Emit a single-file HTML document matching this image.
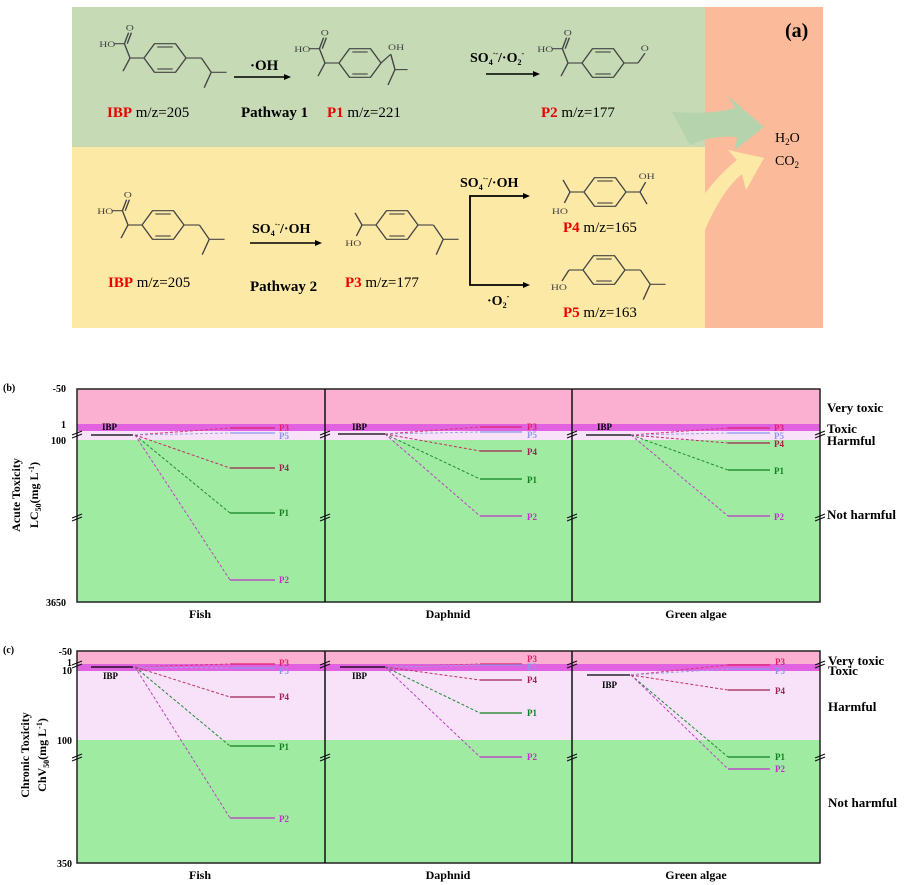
<!DOCTYPE html>
<html><head><meta charset="utf-8"><style>
html,body{margin:0;padding:0;background:#fff;}
svg{display:block;font-family:"Liberation Serif",serif;}
.b{font-weight:bold;}
</style></head><body>
<svg width="921" height="885" viewBox="0 0 921 885" xmlns="http://www.w3.org/2000/svg">
<defs>
<g id="ring" fill="none" stroke="#444" stroke-width="1">
<polygon points="-15,0 -7.5,-13 7.5,-13 15,0 7.5,13 -7.5,13"/>
<line x1="-5.5" y1="-10" x2="5.5" y2="-10"/><line x1="-5.5" y1="10" x2="5.5" y2="10"/>
</g>
<g id="acid">
<g fill="none" stroke="#444" stroke-width="1">
<line x1="-15" y1="0" x2="-25" y2="0"/><line x1="-25" y1="0" x2="-30" y2="12"/>
<line x1="-25" y1="0" x2="-29" y2="-13"/><line x1="-29" y1="-13" x2="-36" y2="-13"/>
<line x1="-29" y1="-13" x2="-26" y2="-23"/><line x1="-27" y1="-13" x2="-24" y2="-23"/></g>
<text x="-47" y="-10" font-size="8" fill="#444">HO</text><text x="-28" y="-25" font-size="8" fill="#444">O</text>
</g>
<g id="ibu" fill="none" stroke="#444" stroke-width="1">
<line x1="15" y1="0" x2="26" y2="0"/><line x1="26" y1="0" x2="33" y2="13"/>
<line x1="33" y1="13" x2="44" y2="13"/><line x1="33" y1="13" x2="28" y2="27"/>
</g>
</defs>
<rect x="72" y="7" width="633" height="140" fill="#c5dab5"/>
<rect x="72" y="147" width="633" height="181" fill="#fde9a6"/>
<rect x="705" y="7" width="118" height="321" fill="#fbbb9b"/>
<path d="M672,112 Q710,115 735,108 L728,96 L764,127 L735,150 L737,137 Q712,135 690,145 Z" fill="#b5d3ad"/>
<path d="M690,215 Q712,180 737,160 L728,150 L764,158 L746,190 L742,174 Q722,190 705,230 Z" fill="#fde9a6"/>
<text x="785" y="37" font-size="20" class="b">(a)</text>
<text x="775" y="142" font-size="14">H<tspan font-size="9" dy="3">2</tspan><tspan dy="-3">O</tspan></text>
<text x="775" y="165" font-size="14">CO<tspan font-size="9" dy="3">2</tspan></text>
<g transform="translate(165,58) scale(1.4,1.1)"><use href="#ring"/><use href="#acid"/><use href="#ibu"/></g>
<g transform="translate(360,63) scale(1.4,1.1)"><use href="#ring"/><use href="#acid"/>
<g fill="none" stroke="#444" stroke-width="1"><line x1="15" y1="0" x2="22" y2="-8"/><line x1="22" y1="-8" x2="25" y2="6"/><line x1="25" y1="6" x2="20" y2="20"/><line x1="25" y1="6" x2="34" y2="6"/></g>
<text x="20" y="-12" font-size="8" fill="#444">OH</text></g>
<g transform="translate(603,63) scale(1.4,1.1)"><use href="#ring"/><use href="#acid"/>
<g fill="none" stroke="#444" stroke-width="1"><line x1="15" y1="0" x2="25" y2="0"/><line x1="25" y1="0" x2="30" y2="-9"/></g>
<text x="27" y="-11" font-size="8" fill="#444">O</text></g>
<text x="250" y="70" font-size="15" class="b">·OH</text>
<line x1="234" y1="77" x2="285" y2="77" stroke="#000" stroke-width="1.5"/><polygon points="284,74 291,77 284,80"/>
<text x="470" y="62" font-size="14" class="b">SO<tspan font-size="8" dy="3">4</tspan><tspan font-size="8" dy="-9">·-</tspan><tspan dy="6">/·O</tspan><tspan font-size="8" dy="3">2</tspan><tspan font-size="8" dy="-9">-</tspan></text>
<line x1="486" y1="74" x2="534" y2="74" stroke="#000" stroke-width="1.5"/><polygon points="533,71 540,74 533,77"/>
<text x="107" y="117" font-size="15"><tspan fill="#e00" font-weight="bold">IBP</tspan><tspan>  m/z=205</tspan></text>
<text x="241" y="117" font-size="15" class="b">Pathway 1</text>
<text x="327" y="117" font-size="15"><tspan fill="#e00" font-weight="bold">P1</tspan><tspan>  m/z=221</tspan></text>
<text x="541" y="117" font-size="15"><tspan fill="#e00" font-weight="bold">P2</tspan><tspan>  m/z=177</tspan></text>
<g transform="translate(163,225) scale(1.4,1.1)"><use href="#ring"/><use href="#acid"/><use href="#ibu"/></g>
<text x="252" y="233" font-size="14" class="b">SO<tspan font-size="8" dy="3">4</tspan><tspan font-size="8" dy="-9">·-</tspan><tspan dy="6">/·OH</tspan></text>
<line x1="250" y1="243" x2="316" y2="243" stroke="#000" stroke-width="1.5"/><polygon points="315,240 322,243 315,246"/>
<g transform="translate(397,225) scale(1.4,1.1)"><use href="#ring"/>
<g fill="none" stroke="#444" stroke-width="1"><line x1="-15" y1="0" x2="-25" y2="0"/><line x1="-25" y1="0" x2="-30" y2="-11"/><line x1="-25" y1="0" x2="-29" y2="10"/><line x1="15" y1="0" x2="26" y2="0"/><line x1="26" y1="0" x2="33" y2="13"/><line x1="33" y1="13" x2="44" y2="13"/><line x1="33" y1="13" x2="28" y2="27"/></g>
<text x="-37" y="19" font-size="8" fill="#444">HO</text></g>
<text x="108" y="287" font-size="15"><tspan fill="#e00" font-weight="bold">IBP</tspan><tspan>  m/z=205</tspan></text>
<text x="250" y="291" font-size="15" class="b">Pathway 2</text>
<text x="345" y="287" font-size="15"><tspan fill="#e00" font-weight="bold">P3</tspan><tspan>  m/z=177</tspan></text>
<path d="M524,196 L470,196 L470,285 L524,285" fill="none" stroke="#000" stroke-width="1.8"/>
<polygon points="523,193 530,196 523,199"/><polygon points="523,282 530,285 523,288"/>
<text x="460" y="187" font-size="14" class="b">SO<tspan font-size="8" dy="3">4</tspan><tspan font-size="8" dy="-9">·-</tspan><tspan dy="6">/·OH</tspan></text>
<text x="487" y="305" font-size="14" class="b">·O<tspan font-size="8" dy="3">2</tspan><tspan font-size="8" dy="-9">-</tspan></text>
<g transform="translate(605,192) scale(1.4,1.1)"><use href="#ring"/>
<g fill="none" stroke="#444" stroke-width="1"><line x1="-15" y1="0" x2="-25" y2="0"/><line x1="-25" y1="0" x2="-30" y2="-11"/><line x1="-25" y1="0" x2="-29" y2="10"/><line x1="15" y1="0" x2="25" y2="0"/><line x1="25" y1="0" x2="29" y2="-9"/><line x1="25" y1="0" x2="30" y2="11"/></g>
<text x="-38" y="20" font-size="8" fill="#444">HO</text><text x="24" y="-12" font-size="8" fill="#444">OH</text></g>
<g transform="translate(604,270) scale(1.4,1.1)"><use href="#ring"/>
<g fill="none" stroke="#444" stroke-width="1"><line x1="-15" y1="0" x2="-25" y2="0"/><line x1="-25" y1="0" x2="-30" y2="10"/><line x1="15" y1="0" x2="26" y2="0"/><line x1="26" y1="0" x2="33" y2="13"/><line x1="33" y1="13" x2="44" y2="13"/><line x1="33" y1="13" x2="28" y2="27"/></g>
<text x="-38" y="18" font-size="8" fill="#444">HO</text></g>
<text x="563" y="232" font-size="15"><tspan fill="#e00" font-weight="bold">P4</tspan><tspan>  m/z=165</tspan></text>
<text x="563" y="317" font-size="15"><tspan fill="#e00" font-weight="bold">P5</tspan><tspan>  m/z=163</tspan></text>

<g font-size="11" class="b">
<rect x="77" y="389" width="743" height="35" fill="#fbb0d2"/>
<rect x="77" y="424" width="743" height="7" fill="#e062e0"/>
<rect x="77" y="431" width="743" height="9" fill="#f7e2fa"/>
<rect x="77" y="440" width="743" height="162" fill="#a0eba2"/>
<rect x="77" y="389" width="743" height="213" fill="none" stroke="#222" stroke-width="1.5"/>
<line x1="325" y1="389" x2="325" y2="602" stroke="#111" stroke-width="1.5"/>
<line x1="572" y1="389" x2="572" y2="602" stroke="#111" stroke-width="1.5"/>
<text x="3" y="391" font-size="10">(b)</text>
<g text-anchor="end" font-size="10"><text x="66" y="392">-50</text><text x="66" y="428">1</text><text x="66" y="444">100</text><text x="66" y="606">3650</text></g>
<text transform="translate(20,495) rotate(-90)" text-anchor="middle" font-size="12">Acute Toxicity</text>
<text transform="translate(38,495) rotate(-90)" text-anchor="middle" font-size="12">LC<tspan font-size="8" dy="3">50</tspan><tspan dy="-3">(mg L</tspan><tspan font-size="8" dy="-4">-1</tspan><tspan dy="4">)</tspan></text>
<g text-anchor="middle" font-size="12"><text x="200" y="618">Fish</text><text x="448" y="618">Daphnid</text><text x="696" y="618">Green algae</text></g>
<g font-size="13"><text x="827" y="412">Very toxic</text><text x="827" y="433">Toxic</text><text x="827" y="445">Harmful</text><text x="827" y="519">Not harmful</text></g>
<g stroke="#111" stroke-width="1.2">
<path d="M72,435 l10,-4 M72,438 l10,-4 M320,435 l10,-4 M320,438 l10,-4 M567,435 l10,-4 M567,438 l10,-4 M815,435 l10,-4 M815,438 l10,-4"/>
<path d="M72,518 l10,-4 M72,521 l10,-4 M320,518 l10,-4 M320,521 l10,-4 M567,518 l10,-4 M567,521 l10,-4 M815,518 l10,-4 M815,521 l10,-4"/>
</g>
<line x1="91" y1="435" x2="133" y2="435" stroke="#000" stroke-width="1.3"/><text x="102" y="430" font-size="9">IBP</text>
<g fill="none" stroke-width="1" stroke-dasharray="3,2">
<path d="M135,435 L230,428" stroke="#e0307a"/><path d="M135,435 L230,433" stroke="#9aa6ee"/>
<path d="M135,435 L230,468" stroke="#c03060"/><path d="M135,435 L230,513" stroke="#208a30"/><path d="M135,435 L230,580" stroke="#c040c8"/>
<path d="M385,434 L480,427" stroke="#e0307a"/><path d="M385,434 L480,432" stroke="#9aa6ee"/>
<path d="M385,434 L480,451" stroke="#c03060"/><path d="M385,434 L480,479" stroke="#208a30"/><path d="M385,434 L480,516" stroke="#c040c8"/>
<path d="M631,435 L728,428" stroke="#e0307a"/><path d="M631,435 L728,433" stroke="#9aa6ee"/>
<path d="M631,435 L728,443" stroke="#c03060"/><path d="M631,435 L728,470" stroke="#208a30"/><path d="M631,435 L728,516" stroke="#c040c8"/>
</g>
<g stroke-width="1.3">
<line x1="230" y1="428" x2="275" y2="428" stroke="#e0206a"/><line x1="230" y1="433" x2="275" y2="433" stroke="#8898ee"/>
<line x1="230" y1="468" x2="275" y2="468" stroke="#a02050"/><line x1="230" y1="513" x2="275" y2="513" stroke="#108020"/><line x1="230" y1="580" x2="275" y2="580" stroke="#c030c8"/>
<line x1="338" y1="434" x2="385" y2="434" stroke="#000"/>
<line x1="480" y1="427" x2="522" y2="427" stroke="#e0206a"/><line x1="480" y1="432" x2="522" y2="432" stroke="#8898ee"/>
<line x1="480" y1="451" x2="522" y2="451" stroke="#a02050"/><line x1="480" y1="479" x2="522" y2="479" stroke="#108020"/><line x1="480" y1="516" x2="522" y2="516" stroke="#c030c8"/>
<line x1="586" y1="435" x2="631" y2="435" stroke="#000"/>
<line x1="728" y1="428" x2="770" y2="428" stroke="#e0206a"/><line x1="728" y1="433" x2="770" y2="433" stroke="#8898ee"/>
<line x1="728" y1="443" x2="770" y2="443" stroke="#a02050"/><line x1="728" y1="470" x2="770" y2="470" stroke="#108020"/><line x1="728" y1="516" x2="770" y2="516" stroke="#c030c8"/>
</g>
<text x="352" y="430" font-size="9">IBP</text><text x="597" y="430" font-size="9">IBP</text>
<g font-size="9">
<text x="279" y="431" fill="#e0206a">P3</text><text x="279" y="439" fill="#8898ee">P5</text><text x="279" y="471" fill="#a02050">P4</text><text x="279" y="516" fill="#108020">P1</text><text x="279" y="583" fill="#c030c8">P2</text>
<text x="527" y="430" fill="#e0206a">P3</text><text x="527" y="438" fill="#8898ee">P5</text><text x="527" y="455" fill="#a02050">P4</text><text x="527" y="483" fill="#108020">P1</text><text x="527" y="520" fill="#c030c8">P2</text>
<text x="774" y="431" fill="#e0206a">P3</text><text x="774" y="439" fill="#8898ee">P5</text><text x="774" y="447" fill="#a02050">P4</text><text x="774" y="474" fill="#108020">P1</text><text x="774" y="520" fill="#c030c8">P2</text>
</g>
</g>

<g font-size="11" class="b">
<rect x="77" y="651" width="743" height="13" fill="#fbb0d2"/>
<rect x="77" y="664" width="743" height="7" fill="#e062e0"/>
<rect x="77" y="671" width="743" height="69" fill="#f7e2fa"/>
<rect x="77" y="740" width="743" height="123" fill="#a0eba2"/>
<rect x="77" y="651" width="743" height="212" fill="none" stroke="#222" stroke-width="1.5"/>
<line x1="325" y1="651" x2="325" y2="863" stroke="#111" stroke-width="1.5"/>
<line x1="572" y1="651" x2="572" y2="863" stroke="#111" stroke-width="1.5"/>
<text x="3" y="653" font-size="10">(c)</text>
<g text-anchor="end" font-size="10"><text x="72" y="655">-50</text><text x="72" y="666">1</text><text x="72" y="674">10</text><text x="72" y="744">100</text><text x="72" y="867">350</text></g>
<text transform="translate(29,755) rotate(-90)" text-anchor="middle" font-size="12">Chronic Toxicity</text>
<text transform="translate(46,755) rotate(-90)" text-anchor="middle" font-size="12">ChV<tspan font-size="8" dy="3">50</tspan><tspan dy="-3">(mg L</tspan><tspan font-size="8" dy="-4">-1</tspan><tspan dy="4">)</tspan></text>
<g text-anchor="middle" font-size="12"><text x="200" y="879">Fish</text><text x="448" y="879">Daphnid</text><text x="696" y="879">Green algae</text></g>
<g font-size="13"><text x="828" y="665">Very toxic</text><text x="828" y="675">Toxic</text><text x="828" y="711">Harmful</text><text x="828" y="807">Not harmful</text></g>
<g stroke="#111" stroke-width="1.2">
<path d="M72,665 l10,-4 M72,668 l10,-4 M320,665 l10,-4 M320,668 l10,-4 M567,665 l10,-4 M567,668 l10,-4 M815,665 l10,-4 M815,668 l10,-4"/>
<path d="M72,758 l10,-4 M72,761 l10,-4 M320,758 l10,-4 M320,761 l10,-4 M567,758 l10,-4 M567,761 l10,-4 M815,758 l10,-4 M815,761 l10,-4"/>
</g>
<g fill="none" stroke-width="1" stroke-dasharray="3,2">
<path d="M135,667 L230,664" stroke="#e0307a"/><path d="M135,667 L230,668" stroke="#9aa6ee"/>
<path d="M135,667 L230,697" stroke="#c03060"/><path d="M135,667 L230,746" stroke="#208a30"/><path d="M135,667 L230,818" stroke="#c040c8"/>
<path d="M385,667 L480,664" stroke="#e0307a"/><path d="M385,667 L480,665" stroke="#9aa6ee"/>
<path d="M385,667 L480,680" stroke="#c03060"/><path d="M385,667 L480,713" stroke="#208a30"/><path d="M385,667 L480,757" stroke="#c040c8"/>
<path d="M631,675 L728,665" stroke="#e0307a"/><path d="M631,675 L728,669" stroke="#9aa6ee"/>
<path d="M631,675 L728,690" stroke="#c03060"/><path d="M631,675 L728,757" stroke="#208a30"/><path d="M631,675 L728,769" stroke="#c040c8"/>
</g>
<g stroke-width="1.3">
<line x1="91" y1="667" x2="133" y2="667" stroke="#000"/>
<line x1="230" y1="664" x2="275" y2="664" stroke="#e0206a"/><line x1="230" y1="668" x2="275" y2="668" stroke="#8898ee"/>
<line x1="230" y1="697" x2="275" y2="697" stroke="#a02050"/><line x1="230" y1="746" x2="275" y2="746" stroke="#108020"/><line x1="230" y1="818" x2="275" y2="818" stroke="#c030c8"/>
<line x1="340" y1="667" x2="385" y2="667" stroke="#000"/>
<line x1="480" y1="664" x2="522" y2="664" stroke="#e0206a"/><line x1="480" y1="665" x2="522" y2="665" stroke="#8898ee"/>
<line x1="480" y1="680" x2="522" y2="680" stroke="#a02050"/><line x1="480" y1="713" x2="522" y2="713" stroke="#108020"/><line x1="480" y1="757" x2="522" y2="757" stroke="#c030c8"/>
<line x1="587" y1="675" x2="630" y2="675" stroke="#000"/>
<line x1="728" y1="665" x2="770" y2="665" stroke="#e0206a"/><line x1="728" y1="669" x2="770" y2="669" stroke="#8898ee"/>
<line x1="728" y1="690" x2="770" y2="690" stroke="#a02050"/><line x1="728" y1="757" x2="770" y2="757" stroke="#108020"/><line x1="728" y1="769" x2="770" y2="769" stroke="#c030c8"/>
</g>
<g font-size="9"><text x="103" y="679">IBP</text><text x="352" y="679">IBP</text><text x="602" y="688">IBP</text></g>
<g font-size="9">
<text x="279" y="666" fill="#e0206a">P3</text><text x="279" y="674" fill="#8898ee">P5</text><text x="279" y="700" fill="#a02050">P4</text><text x="279" y="750" fill="#108020">P1</text><text x="279" y="822" fill="#c030c8">P2</text>
<text x="527" y="662" fill="#e0206a">P3</text><text x="527" y="670" fill="#8898ee">P5</text><text x="527" y="683" fill="#a02050">P4</text><text x="527" y="716" fill="#108020">P1</text><text x="527" y="760" fill="#c030c8">P2</text>
<text x="775" y="665" fill="#e0206a">P3</text><text x="775" y="674" fill="#8898ee">P5</text><text x="775" y="694" fill="#a02050">P4</text><text x="775" y="760" fill="#108020">P1</text><text x="775" y="772" fill="#c030c8">P2</text>
</g>
</g>
</svg>
</body></html>
